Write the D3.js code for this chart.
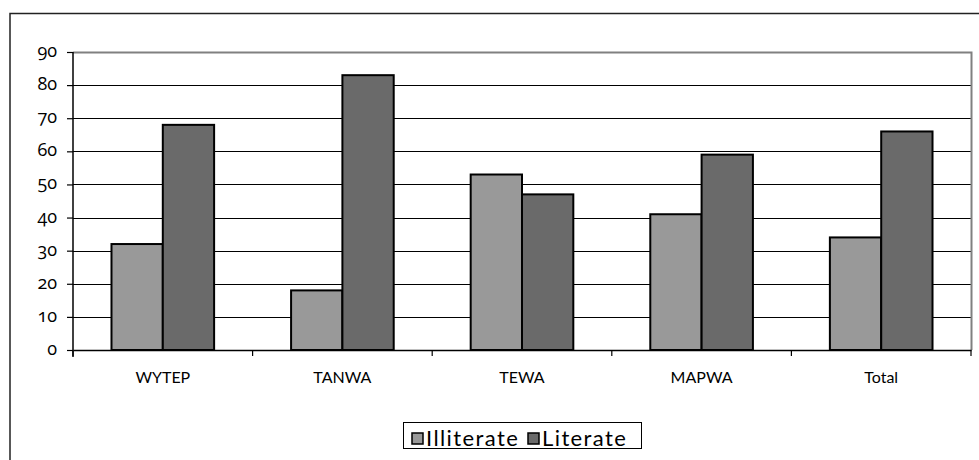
<!DOCTYPE html>
<html>
<head>
<meta charset="utf-8">
<script src="https://cdn.jsdelivr.net/npm/d3@7"></script>
<style>
  html, body { margin: 0; padding: 0; background: #fff; }
  svg text { font-family: "Lato", "Open Sans", sans-serif; fill: #000; }
</style>
</head>
<body>
<svg id="chart" width="979" height="460"></svg>
<script>
// Literacy shares (%) by group
const categories = ["WYTEP", "TANWA", "TEWA", "MAPWA", "Total"];
const seriesNames = ["Illiterate", "Literate"];
const illiterate = [32, 18, 53, 41, 34];
const literate = [68, 83, 47, 59, 66];
const yTicks = [0, 10, 20, 30, 40, 50, 60, 70, 80, 90];
const colors = ["#999999", "#6a6a6a"];

const svg = d3.select("#chart");

// outer frame
svg.append("rect")
  .attr("x", 10).attr("y", 13.5)
  .attr("width", 975).attr("height", 460)
  .attr("fill", "none").attr("stroke", "#222").attr("stroke-width", 1.5);

const plot = { left: 73, right: 971, top: 52, bottom: 350 };

const x = d3.scaleBand().domain(categories).range([plot.left, plot.right]).padding(0);
const y = d3.scaleLinear().domain([0, 90]).range([plot.bottom, plot.top]);

// gridlines
svg.append("g").selectAll("line")
  .data(yTicks.filter(d => d > 0 && d < 90))
  .join("line")
  .attr("x1", plot.left).attr("x2", plot.right)
  .attr("y1", d => Math.round(y(d)) + 0.5).attr("y2", d => Math.round(y(d)) + 0.5)
  .attr("stroke", "#000").attr("stroke-width", 1);

// plot-area border (top and right)
svg.append("path")
  .attr("d", `M${plot.left},${plot.top + 0.5}H${plot.right + 0.5}V${plot.bottom}`)
  .attr("fill", "none").attr("stroke", "#808080").attr("stroke-width", 2);

// bars
const barW = x.bandwidth() / 3.5;
const series = [illiterate, literate];
const groups = svg.append("g").selectAll("g")
  .data(categories)
  .join("g")
  .attr("transform", d => `translate(${x(d) + barW * 0.75},0)`);

groups.selectAll("rect")
  .data((d, i) => series.map((s, k) => ({ k, v: s[i] })))
  .join("rect")
  .attr("x", d => d.k * barW)
  .attr("y", d => y(d.v))
  .attr("width", barW)
  .attr("height", d => y(0) - y(d.v))
  .attr("fill", d => colors[d.k])
  .attr("stroke", "#000").attr("stroke-width", 2);

// y axis
const yAxis = svg.append("g")
  .attr("transform", `translate(${plot.left},0)`)
  .call(d3.axisLeft(y).tickValues(yTicks).tickSize(6).tickPadding(10));
yAxis.attr("font-family", null).attr("font-size", null);
yAxis.select(".domain").attr("d", `M0,${plot.top}V${plot.bottom + 7}`).attr("stroke", "#000").attr("stroke-width", 1.5);
yAxis.selectAll(".tick line").attr("stroke", "#000").attr("stroke-width", 1.2);
yAxis.selectAll(".tick text")
  .attr("dy", "0.25em")
  .style("font-family", "'Open Sans', 'Noto Sans', sans-serif")
  .style("font-variant-numeric", "oldstyle-nums")
  .style("font-feature-settings", "'onum' 1")
  .style("font-size", "18px");

// x axis
const xAxis = svg.append("g")
  .attr("transform", `translate(0,${plot.bottom})`)
  .call(d3.axisBottom(x).tickSize(0).tickPadding(22));
xAxis.attr("font-family", null).attr("font-size", null);
xAxis.select(".domain").attr("stroke", "#000").attr("stroke-width", 1.5);
xAxis.selectAll(".tick text").style("font-size", "16px");
// category separators
svg.append("g").selectAll("line")
  .data(categories.map(c => x(c)).concat([plot.right]))
  .join("line")
  .attr("x1", d => d).attr("x2", d => d)
  .attr("y1", plot.bottom).attr("y2", plot.bottom + 6)
  .attr("stroke", "#000").attr("stroke-width", 1.2);

// legend
const legend = svg.append("g");
legend.append("rect")
  .attr("x", 403.5).attr("y", 422.5).attr("width", 238).attr("height", 26)
  .attr("fill", "#fff").attr("stroke", "#000").attr("stroke-width", 1);
const legX = [412, 528];
seriesNames.forEach((name, k) => {
  legend.append("rect")
    .attr("x", legX[k]).attr("y", 433).attr("width", 11).attr("height", 11)
    .attr("fill", colors[k]).attr("stroke", "#000").attr("stroke-width", 1.5);
  legend.append("text")
    .attr("x", legX[k] + 14).attr("y", 446)
    .style("font-size", "22px")
    .style("letter-spacing", "1.4px")
    .text(name);
});
</script>
</body>
</html>
